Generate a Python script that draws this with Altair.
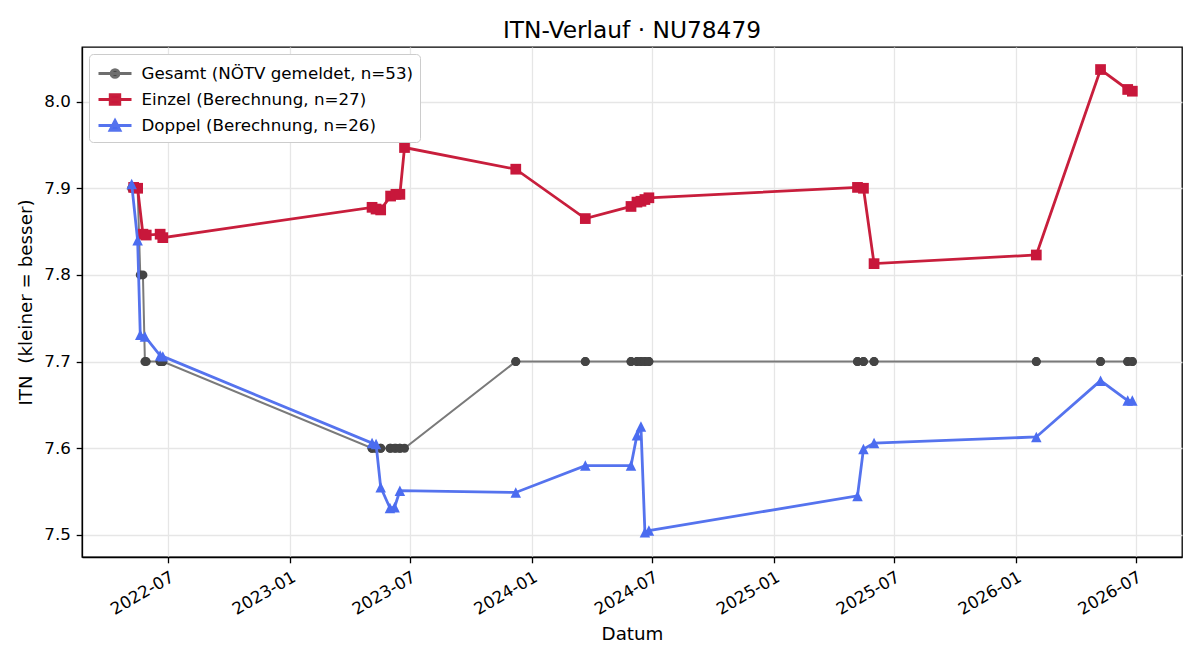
import altair as alt
import pandas as pd

TITLE = "ITN-Verlauf · NU78479"
SERIES = ["Gesamt (NÖTV gemeldet, n=53)", "Einzel (Berechnung, n=27)", "Doppel (Berechnung, n=26)"]

# Einzel (red squares)
einzel_dates = ["2022-05-10", "2022-05-16", "2022-05-24", "2022-05-29", "2022-06-19", "2022-06-23",
                "2023-05-05", "2023-05-11", "2023-05-18", "2023-06-02", "2023-06-10", "2023-06-16", "2023-06-23",
                "2023-12-08", "2024-03-22",
                "2024-05-30", "2024-06-08", "2024-06-14", "2024-06-20", "2024-06-26",
                "2025-05-07", "2025-05-16", "2025-06-01",
                "2026-02-01", "2026-05-09", "2026-06-19", "2026-06-26"]
einzel_itn = [7.901, 7.900, 7.847, 7.846, 7.847, 7.843,
              7.878, 7.876, 7.875, 7.891, 7.893, 7.893, 7.947,
              7.922, 7.865,
              7.879, 7.884, 7.885, 7.887, 7.889,
              7.901, 7.900, 7.813,
              7.823, 8.037, 8.014, 8.012]

# Doppel (blue triangles)
doppel_dates = ["2022-05-07", "2022-05-16", "2022-05-20", "2022-05-27", "2022-06-19", "2022-06-23",
                "2023-05-05", "2023-05-11", "2023-05-18", "2023-06-01", "2023-06-08", "2023-06-16",
                "2023-12-08", "2024-03-22",
                "2024-05-30", "2024-06-08", "2024-06-14", "2024-06-20", "2024-06-26",
                "2025-05-07", "2025-05-16", "2025-06-01",
                "2026-02-01", "2026-05-09", "2026-06-19", "2026-06-26"]
doppel_itn = [7.905, 7.840, 7.731, 7.729, 7.707, 7.706,
              7.606, 7.605, 7.555, 7.531, 7.532, 7.551,
              7.549, 7.580,
              7.580, 7.615, 7.625, 7.503, 7.505,
              7.545, 7.599, 7.606,
              7.613, 7.678, 7.655, 7.655]

# Gesamt (grey circles) - reported ITN at each match
gesamt_dates = ["2022-05-07", "2022-05-10", "2022-05-16", "2022-05-16", "2022-05-20", "2022-05-24",
                "2022-05-27", "2022-05-29", "2022-06-19", "2022-06-19", "2022-06-23", "2022-06-23",
                "2023-05-05", "2023-05-05", "2023-05-11", "2023-05-11", "2023-05-18", "2023-05-18",
                "2023-06-01", "2023-06-02", "2023-06-08", "2023-06-10", "2023-06-16", "2023-06-16", "2023-06-23",
                "2023-12-08", "2023-12-08", "2024-03-22", "2024-03-22",
                "2024-05-30", "2024-05-30", "2024-06-08", "2024-06-08", "2024-06-14", "2024-06-14",
                "2024-06-20", "2024-06-20", "2024-06-26", "2024-06-26",
                "2025-05-07", "2025-05-07", "2025-05-16", "2025-05-16", "2025-06-01", "2025-06-01",
                "2026-02-01", "2026-02-01", "2026-05-09", "2026-05-09", "2026-06-19", "2026-06-19",
                "2026-06-26", "2026-06-26"]
gesamt_itn = [7.9, 7.9, 7.9, 7.9, 7.8, 7.8,
              7.7, 7.7, 7.7, 7.7, 7.7, 7.7,
              7.6, 7.6, 7.6, 7.6, 7.6, 7.6,
              7.6, 7.6, 7.6, 7.6, 7.6, 7.6, 7.6,
              7.7, 7.7, 7.7, 7.7,
              7.7, 7.7, 7.7, 7.7, 7.7, 7.7,
              7.7, 7.7, 7.7, 7.7,
              7.7, 7.7, 7.7, 7.7, 7.7, 7.7,
              7.7, 7.7, 7.7, 7.7, 7.7, 7.7,
              7.7, 7.7]

x_tick_years = [2022, 2023, 2023, 2024, 2024, 2025, 2025, 2026, 2026]
x_tick_months = [7, 1, 7, 1, 7, 1, 7, 1, 7]
y_ticks = [7.5, 7.6, 7.7, 7.8, 7.9, 8.0]

gdf = pd.DataFrame({"date": gesamt_dates, "itn": gesamt_itn})
edf = pd.DataFrame({"date": einzel_dates, "itn": einzel_itn})
ddf = pd.DataFrame({"date": doppel_dates, "itn": doppel_itn})
ldf = pd.DataFrame({"date": [gesamt_dates[0], einzel_dates[0], doppel_dates[0]],
                    "itn": [gesamt_itn[0], einzel_itn[0], doppel_itn[0]],
                    "series": SERIES})

xscale = alt.Scale(domain=[alt.DateTime(year=2022, month=2, date=21),
                           alt.DateTime(year=2026, month=9, date=9)], nice=False)
yscale = alt.Scale(domain=[7.4745, 8.0630], nice=False, zero=False)

X = alt.X("date:T", scale=xscale, title="Datum",
          axis=alt.Axis(values=[alt.DateTime(year=y, month=m, date=1) for y, m in zip(x_tick_years, x_tick_months)],
                        format="%Y-%m", labelAngle=-30, labelAlign="right", labelBaseline="top",
                        titleX=550, titleY=82, titleBaseline="alphabetic", titleAlign="center"))
Y = alt.Y("itn:Q", scale=yscale, title="ITN \u00a0(kleiner = besser)",
          axis=alt.Axis(values=y_ticks, format=".1f",
                        titleX=-56, titleY=255, titleAngle=270, titleAlign="center", titleBaseline="middle"))

g_line = alt.Chart(gdf).mark_line(color="#7a7a7a", strokeWidth=2).encode(x=X, y=Y)
g_pts = alt.Chart(gdf).mark_point(filled=True, shape="circle", size=81, color="#444444", opacity=1).encode(x=X, y=Y)
r_line = alt.Chart(edf).mark_line(color="#c81e3c", strokeWidth=2.8).encode(x=X, y=Y)
r_pts = alt.Chart(edf).mark_point(filled=True, shape="square", size=115, color="#c8173b", opacity=1).encode(x=X, y=Y)
b_line = alt.Chart(ddf).mark_line(color="#5573ee", strokeWidth=2.8).encode(x=X, y=Y)
b_pts = alt.Chart(ddf).mark_point(filled=True, shape="M0,-1L1,1H-1Z", size=110, color="#4b6cf0", opacity=1).encode(x=X, y=Y)

legend_paths = [
    "M-1.375,0H1.375M0.33,0A0.33,0.33,0,1,1,-0.33,0A0.33,0.33,0,1,1,0.33,0Z",
    "M-1.375,0H1.375M-0.4,-0.4H0.4V0.4H-0.4Z",
    "M-1.375,0H1.375M0,-0.42L0.42,0.4H-0.42Z",
]
leg = alt.Legend(title=None, orient="none", legendX=7, legendY=7, padding=6,
                 symbolSize=576, symbolStrokeWidth=2.8, symbolOpacity=1,
                 symbolOffset=6.5, labelOffset=13, labelFontSize=16.7, labelColor="black",
                 labelLimit=500, rowPadding=2, fillColor="white", strokeColor="#cccccc",
                 cornerRadius=4)
leg_layer = alt.Chart(ldf).mark_point(filled=True, opacity=0).encode(
    x=X, y=Y,
    fill=alt.Fill("series:N", scale=alt.Scale(domain=SERIES, range=["#444444", "#c8173b", "#4b6cf0"]), legend=leg),
    stroke=alt.Stroke("series:N", scale=alt.Scale(domain=SERIES, range=["#6e6e6e", "#c81e3c", "#5573ee"]), legend=leg),
    shape=alt.Shape("series:N", scale=alt.Scale(domain=SERIES, range=legend_paths), legend=leg),
)

chart = alt.layer(g_line, g_pts, r_line, r_pts, b_line, b_pts, leg_layer).properties(
    width=1100, height=510,
    title=alt.TitleParams(TITLE, fontSize=23.3, fontWeight="normal", color="black", anchor="middle",
                          baseline="alphabetic", offset=10, dy=24),
    autosize=alt.AutoSizeParams(type="none"),
    padding={"left": 82, "top": 47, "right": 18, "bottom": 103},
).configure(font="DejaVu Sans").configure_view(
    stroke="black", strokeWidth=1.3
).configure_axis(
    domainColor="black", domainWidth=1.3, tickColor="black", tickWidth=1.3, tickSize=5.8,
    labelFontSize=16.7, labelColor="black", labelPadding=5.8,
    titleFontSize=18.3, titleFontWeight="normal", titleColor="black",
    gridColor="#e6e6e6", gridWidth=1.3,
)

chart.save("out.html", embed_options={"renderer": "svg", "actions": False})
